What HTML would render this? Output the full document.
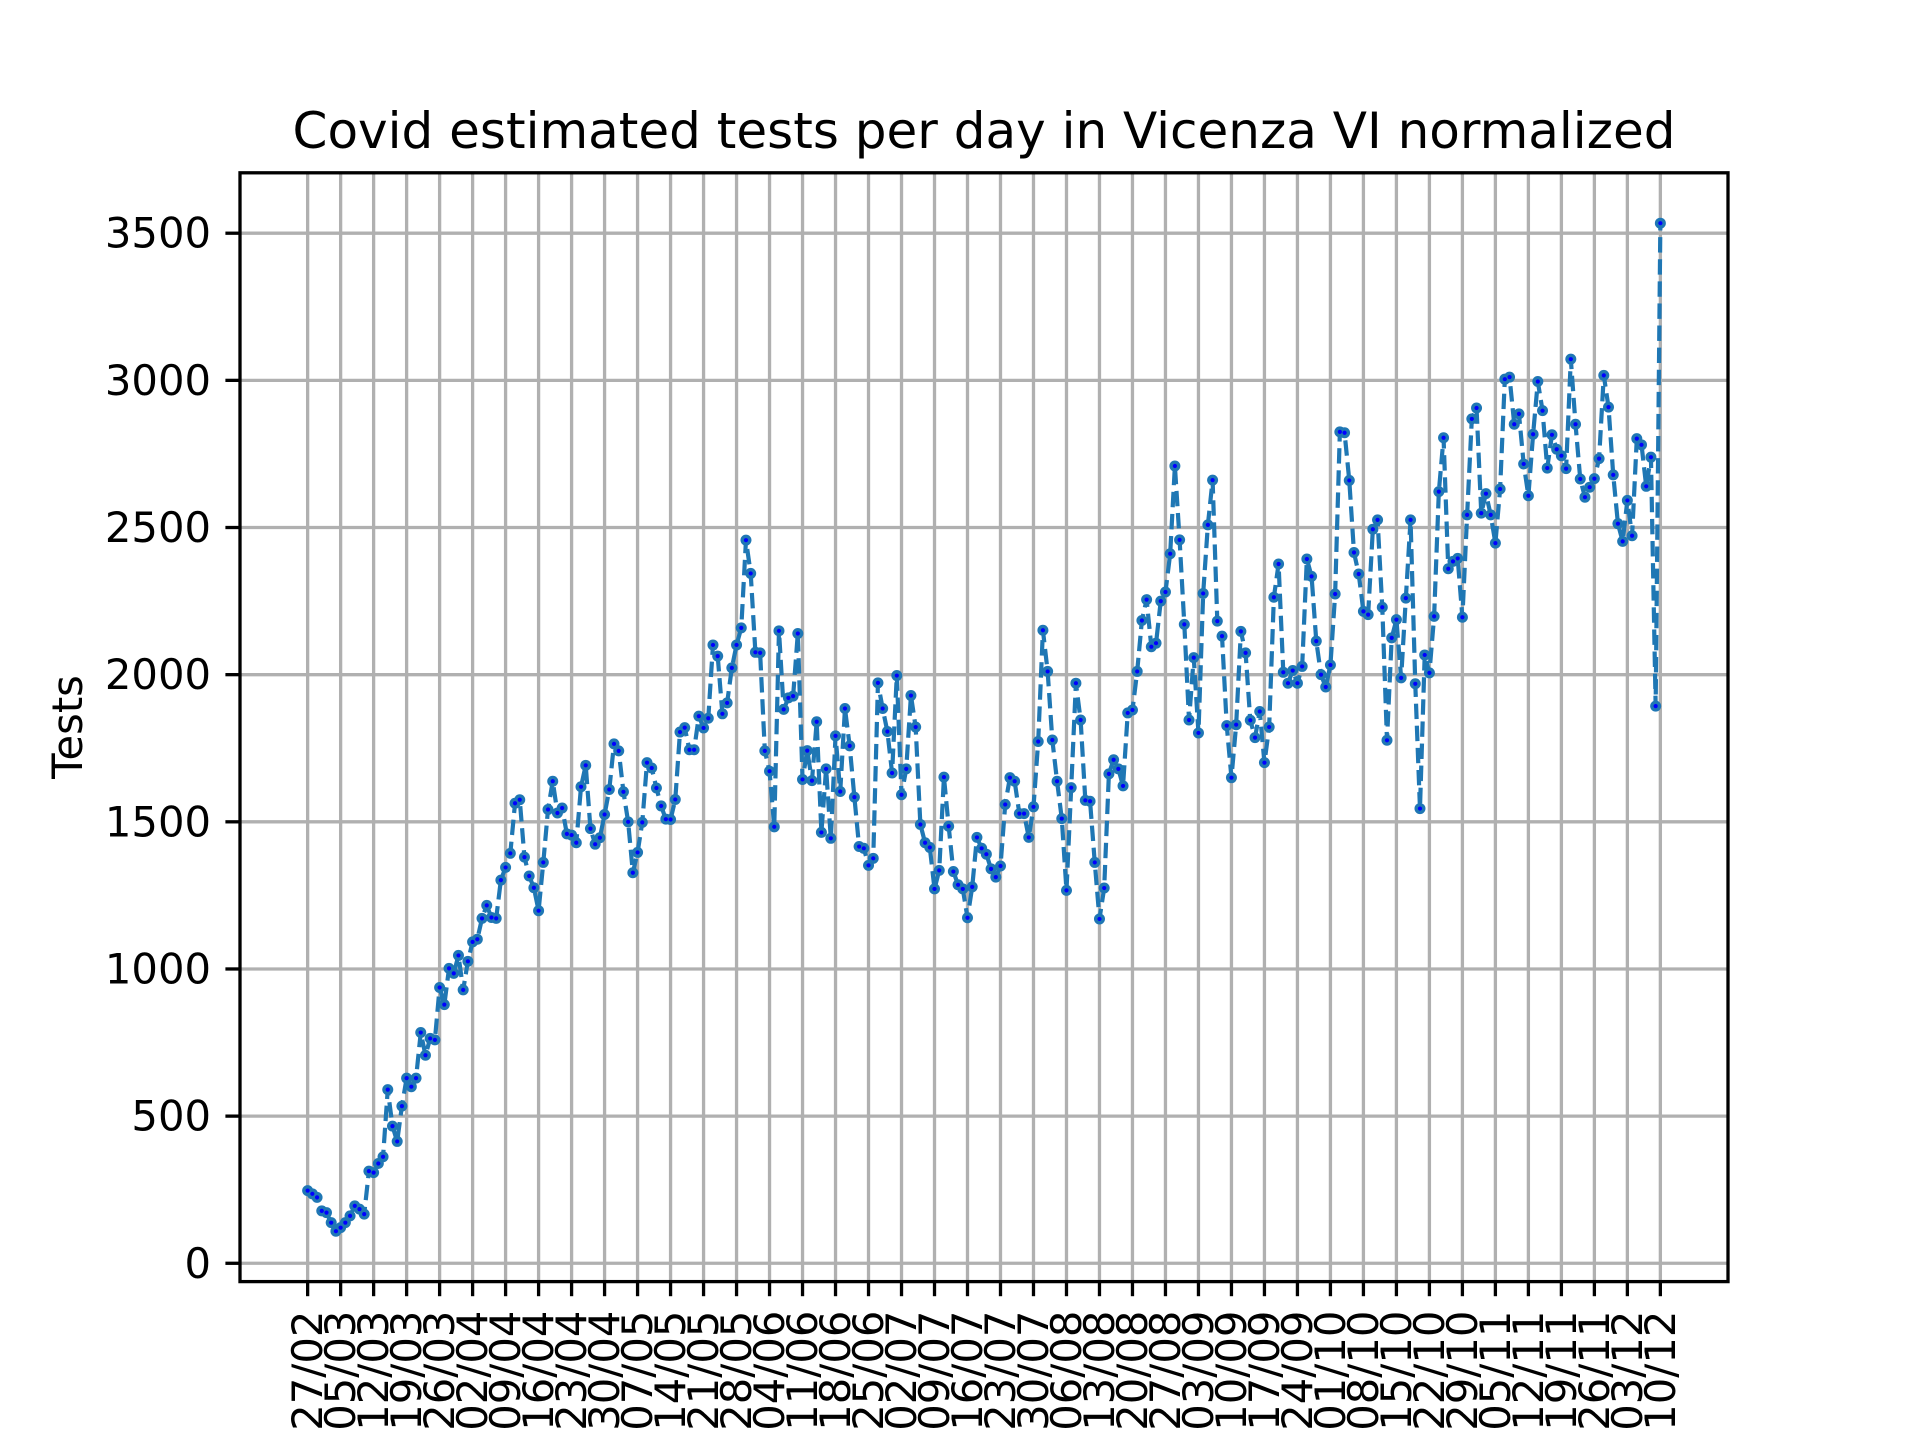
<!DOCTYPE html>
<html><head><meta charset="utf-8"><title>Covid tests Vicenza</title>
<style>
html,body{margin:0;padding:0;background:#fff;width:1920px;height:1440px;overflow:hidden}
svg{display:block;font-family:"DejaVu Sans","Liberation Sans",sans-serif}
</style></head>
<body>
<svg id="chart" width="1920" height="1440" viewBox="0 0 1920 1440" xmlns="http://www.w3.org/2000/svg">
<rect width="1920" height="1440" fill="#fff"/>
<g id="grid"></g>
<g id="series"></g>
<rect x="240" y="172.8" width="1488" height="1108.8" fill="none" stroke="#000" stroke-width="3.3"/>
<g id="yticks"></g>
<g id="xticks"></g>
<text x="984" y="148" font-size="50" text-anchor="middle" fill="#000">Covid estimated tests per day in Vicenza VI normalized</text>
<text transform="translate(82,727) rotate(-90)" font-size="41.7" text-anchor="middle" fill="#000">Tests</text>
</svg>
<script>
const tickLabels = ["27/02","05/03","12/03","19/03","26/03","02/04","09/04","16/04","23/04","30/04","07/05","14/05","21/05","28/05","04/06","11/06","18/06","25/06","02/07","09/07","16/07","23/07","30/07","06/08","13/08","20/08","27/08","03/09","10/09","17/09","24/09","01/10","08/10","15/10","22/10","29/10","05/11","12/11","19/11","26/11","03/12","10/12"];
const yTicks = [0,500,1000,1500,2000,2500,3000,3500];
const tests = [
247,236,224,178,172,138,109,121,138,161,195,184,167,313,308,339,362,590,466,414,
534,629,600,629,784,707,764,759,937,879,1002,985,1046,929,1026,1092,1101,1172,1216,1175,
1172,1302,1345,1393,1563,1575,1380,1316,1276,1198,
1362,1542,1638,1530,1547,1459,1455,1429,1619,1692,1477,1424,1446,1525,1610,1765,1741,1602,1500,1327,
1396,1498,1701,1683,1615,1554,1509,1508,1576,1805,1820,1745,1745,1859,1819,1852,2101,2063,1867,1904,
2023,2101,2159,2457,2344,2076,2074,1741,1672,
1483,2149,1882,1921,1927,2140,1644,1742,1640,1840,1464,1680,1444,1792,1603,1885,1758,1584,1416,1410,
1352,1376,1972,1885,1807,1666,1997,1592,1680,1929,1822,1491,1429,1413,1272,1335,1652,1485,1331,1286,
1272,1174,1279,1447,1410,1390,1340,1312,
1350,1559,1650,1638,1528,1528,1447,1551,1773,2151,2011,1778,1638,1511,1267,1616,1971,1846,1573,1570,
1362,1170,1275,1663,1711,1680,1622,1870,1880,2011,2184,2255,2095,2107,2250,2281,2411,2709,2458,2171,
1846,2058,1802,2276,2509,2661,2182,2131,1827,1650,
1830,2147,2074,1845,1786,1875,1701,1822,2263,2376,2008,1971,2014,1971,2028,2393,2334,2114,2000,1958,
2033,2274,2825,2822,2660,2415,2342,2215,2204,2494,2526,2229,1777,2125,2187,1989,2260,2526,1969,1545,
2067,2006,2198,2622,2805,2360,2385,2395,2195,
2543,2869,2906,2549,2615,2543,2447,2631,3004,3011,2851,2886,2716,2608,2817,2996,2897,2702,2815,2766,
2744,2700,3072,2851,2665,2603,2637,2666,2734,3017,2909,2679,2513,2453,2592,2472,2802,2781,2640,2739,
1893,3534];

const NS = "http://www.w3.org/2000/svg";
const L = 240, R = 1728, T = 172.8, B = 1281.6;
const n = tests.length;
const xMargin = (n - 1) * 0.05;
const xMin = -xMargin, xMax = (n - 1) + xMargin;
const vMin = Math.min(...tests), vMax = Math.max(...tests);
const yMargin = (vMax - vMin) * 0.05;
const yMin = vMin - yMargin, yMax = vMax + yMargin;
function xScale(d){ return L + (d - xMin) / (xMax - xMin) * (R - L); }
function yScale(v){ return B - (v - yMin) / (yMax - yMin) * (B - T); }
function mk(tag, attrs, parent){
  const e = document.createElementNS(NS, tag);
  for (const k in attrs) e.setAttribute(k, attrs[k]);
  parent.appendChild(e);
  return e;
}
const grid = document.getElementById('grid');
const yt = document.getElementById('yticks');
const xt = document.getElementById('xticks');
const series = document.getElementById('series');

yTicks.forEach(v => {
  const y = yScale(v);
  const g = mk('line', {x1:L, x2:R, y1:y, y2:y, stroke:'#b0b0b0', 'stroke-width':3.3}, grid);
  
  
  const t = mk('line', {x1:L-14.6, x2:L, y1:y, y2:y, stroke:'#000', 'stroke-width':3.3}, yt);
  
  
  const lab = mk('text', {x:L-29, y:y, 'font-size':41.7, 'text-anchor':'end', 'dominant-baseline':'central', fill:'#000'}, yt);
  lab.textContent = String(v);
  
  
});

tickLabels.forEach((s, i) => {
  const x = xScale(i * 7);
  const g = mk('line', {x1:x, x2:x, y1:T, y2:B, stroke:'#b0b0b0', 'stroke-width':3.3}, grid);
  
  
  const t = mk('line', {x1:x, x2:x, y1:B, y2:B+14.6, stroke:'#000', 'stroke-width':3.3}, xt);
  
  
  const lab = mk('text', {transform:'translate(' + x + ',' + (B + 29) + ') rotate(-90)', 'font-size':41.7, 'text-anchor':'end', 'dominant-baseline':'central', fill:'#000'}, xt);
  lab.textContent = s;
  
  
});

const pts = tests.map((v, i) => xScale(i).toFixed(2) + ',' + yScale(v).toFixed(2)).join(' ');
const line = mk('polyline', {points:pts, fill:'none', stroke:'#1f77b4', 'stroke-width':4.2, 'stroke-dasharray':'15.4 6.7', 'stroke-linejoin':'round'}, series);


tests.forEach((v, i) => {
  const c = mk('circle', {cx:xScale(i), cy:yScale(v), r:5.5, fill:'#1f77b4'}, series);
  
  
});
tests.forEach((v, i) => {
  const c = mk('circle', {cx:xScale(i), cy:yScale(v), r:2.1, fill:'#0000ff'}, series);
  
  
});
</script>
</body></html>
